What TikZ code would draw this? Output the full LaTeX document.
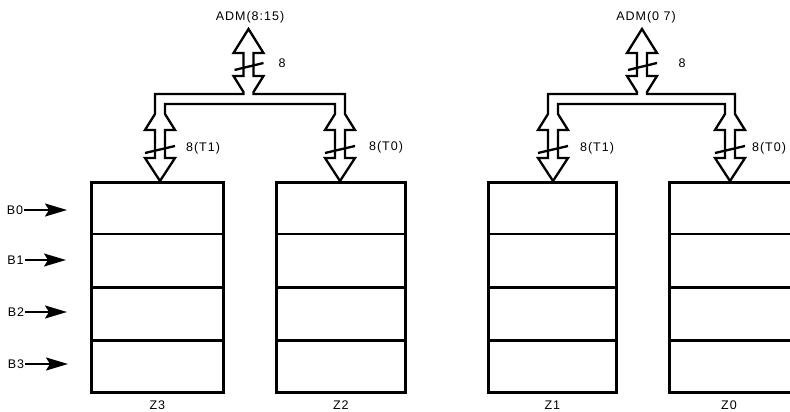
\documentclass[tikz,border=0pt]{standalone}
\usepackage{fontspec}
\setsansfont{Liberation Sans}
\usetikzlibrary{arrows.meta,calc}
\newcommand\busgroup[3]{%
\draw[bus] (#1,29) -- ({#1+15},53) -- ({#1+5},53) -- ({#1+5},76) -- ({#1+15},76) -- ({#1+5},92) -- ({#1+5},94)
 -- ({#3+5},94) -- ({#3+5},114) -- ({#3+15},130) -- ({#3+5},130) -- ({#3+5},158) -- ({#3+15},158) -- (#3,181)
 -- ({#3-15},158) -- ({#3-5},158) -- ({#3-5},130) -- ({#3-15},130) -- ({#3-5},114) -- ({#3-5},104)
 -- ({#2+5},104) -- ({#2+5},114) -- ({#2+15},130) -- ({#2+5},130) -- ({#2+5},158) -- ({#2+15},158) -- (#2,181)
 -- ({#2-15},158) -- ({#2-5},158) -- ({#2-5},130) -- ({#2-15},130) -- ({#2-5},114) -- ({#2-5},94)
 -- ({#1-5},94) -- ({#1-5},92) -- ({#1-15},76) -- ({#1-5},76) -- ({#1-5},53) -- ({#1-15},53) -- cycle;
\draw[slash] ({#1-14},70) -- ({#1+15},63);
\draw[slash] ({#2-15},153) -- ({#2+15},146);
\draw[slash] ({#3-15},153) -- ({#3+15},146);
}
\begin{document}
\begin{tikzpicture}[x=1pt,y=-1pt,
  lab/.style={font=\sffamily\fontsize{12.5}{12.5}\selectfont\addfontfeature{LetterSpace=8}, inner sep=1pt},
  reg/.style={draw, line width=2.6pt, rectangle, inner sep=0pt, anchor=north west, minimum width=#1, minimum height=210pt},
  row/.style={line width=2.6pt},
  bus/.style={line width=2.3pt, line join=miter},
  slash/.style={line width=2.3pt},
  barrow/.style={line width=2pt, -{Stealth[length=22pt,width=13pt,inset=4pt]}}
]
\useasboundingbox (0,0) rectangle (790,412);
\clip (0,0) rectangle (790,412);

% register boxes
\node[reg=132pt] (z3) at (90,181) {};
\node[reg=129pt] (z2) at (275,181) {};
\node[reg=128pt] (z1) at (487,181) {};
\node[reg=129pt] (z0) at (668,181) {};
\foreach \bx in {z3,z2,z1,z0}
  \foreach \f in {0.25,0.5,0.75}
    \draw[row] ($(\bx.north west)!\f!(\bx.south west)$) -- ($(\bx.north east)!\f!(\bx.south east)$);

\node[lab] (lz3) at ([yshift=-12pt]z3.south) {Z3};
\node[lab] (lz2) at ([yshift=-12pt]z2.south) {Z2};
\node[lab] (lz1) at ([yshift=-12pt]z1.south) {Z1};
\node[lab] (lz0) at ([yshift=-12pt]z0.south -| 729,0) {Z0};

% buses
\busgroup{248.5}{160}{340}
\busgroup{642}{553}{730}

\node[lab] (adm1) at (250,17) {ADM(8:15)};
\node[lab] (adm0) at (646,17) {ADM(0 7)};
\node[lab] (w1) at (282,63) {8};
\node[lab] (w0) at (682,63) {8};
\node[lab] (t31) at (203,148) {8(T1)};
\node[lab] (t20) at (386,147) {8(T0)};
\node[lab] (t11) at (597,148) {8(T1)};
\node[lab] (t00) at (769,148) {8(T0)};

% byte inputs
\node[lab] (b0) at (15,210) {B0};
\node[lab] (b1) at (15.5,260) {B1};
\node[lab] (b2) at (16,312) {B2};
\node[lab] (b3) at (16,364) {B3};
\coordinate (e0) at (67,210);
\coordinate (e1) at (66,260);
\coordinate (e2) at (67,312);
\coordinate (e3) at (68,364);
\draw[barrow] (b0.east) -- (e0);
\draw[barrow] (b1.east) -- (e1);
\draw[barrow] (b2.east) -- (e2);
\draw[barrow] (b3.east) -- (e3);
\end{tikzpicture}
\end{document}
